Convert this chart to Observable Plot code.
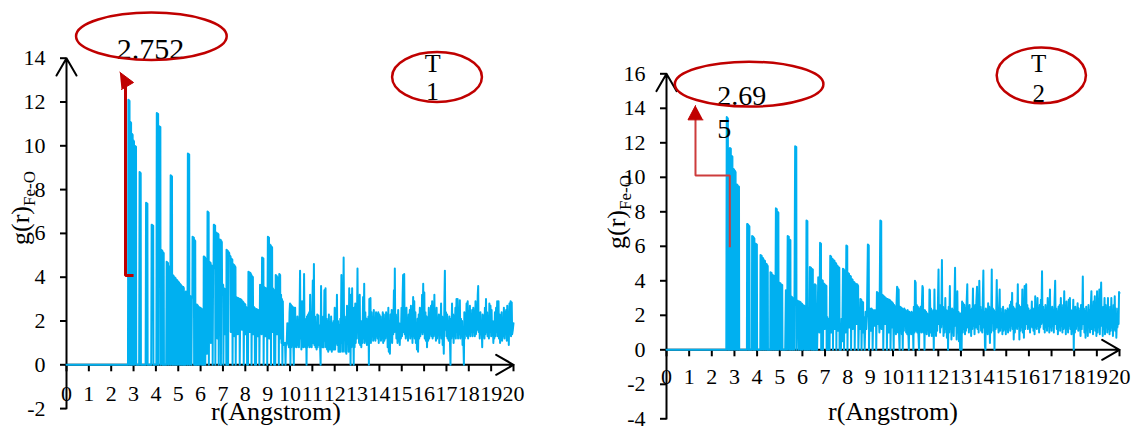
<!DOCTYPE html>
<html><head><meta charset="utf-8">
<script src="https://cdn.jsdelivr.net/npm/d3@7"></script>
<script src="https://cdn.jsdelivr.net/npm/@observablehq/plot@0.6"></script>
<style>
html,body{margin:0;padding:0;background:#fff;}
#wrap{position:relative;width:1134px;height:427px;overflow:hidden;background:#fff;}
#wrap svg{position:absolute;top:0;}
</style></head><body><div id="wrap"></div>
<script>
// ---------- data ----------
const xTicks = [0,1,2,3,4,5,6,7,8,9,10,11,12,13,14,15,16,17,18,19,20];
const yTicksT1 = [-2,0,2,4,6,8,10,12,14];
const yTicksT2 = [-4,-2,0,2,4,6,8,10,12,14,16];

// g(r) Fe-O, panel T1  [r, g]
const gT1 = [
[0,0],[2.75,0],
[2.77,12.1],[2.82,12.05],[2.83,0],[2.85,11.1],[2.89,11.05],[2.90,0],[2.92,10.55],[2.96,10.5],[2.97,0],[2.99,10.25],[3.02,10.2],[3.03,0],[3.05,10.0],[3.11,9.95],[3.12,0],
[3.25,0],[3.27,8.8],[3.32,8.75],[3.33,0],
[3.54,0],[3.56,7.4],[3.62,7.35],[3.63,0],
[3.79,0],[3.81,6.4],[3.88,6.35],[3.89,0],
[4.02,0],[4.04,11.5],[4.10,11.45],[4.11,0],[4.13,10.9],[4.20,10.85],[4.21,0],[4.24,5.25],[4.29,5.2],[4.30,0],[4.31,5.15],[4.35,5.1],[4.36,0],
[4.46,0],[4.48,4.7],[4.54,4.65],[4.55,0],[4.57,4.5],[4.63,4.45],[4.64,0],[4.66,8.65],[4.72,8.6],[4.73,0],[4.75,4.1],[4.80,4.05],[4.81,0],[4.83,4.0],[4.88,3.95],[4.89,0],[4.91,3.9],[4.96,3.85],[4.97,0],[4.99,3.8],[5.04,3.75],[5.05,0],[5.07,3.7],[5.12,3.65],[5.13,0],[5.15,3.6],[5.20,3.55],[5.21,0],[5.23,3.55],[5.25,3.5],[5.26,0],
[5.32,0],[5.34,3.35],[5.40,3.3],[5.41,0],[5.43,9.65],[5.49,9.6],[5.50,0],[5.52,3.15],[5.58,3.1],[5.59,0],[5.61,3.1],[5.63,3.05],[5.64,5.85],[5.70,5.8],[5.71,0],[5.73,5.7],[5.76,5.65],[5.77,0],
[5.82,0],[5.83,2.75],[5.88,2.7],[5.89,0],[5.91,2.65],[5.96,2.6],[5.97,0],[5.99,2.6],[6.05,2.55],[6.06,0],[6.08,2.5],[6.12,2.5],[6.13,0],
[6.14,4.95],[6.20,4.9],[6.21,0],[6.23,4.85],[6.28,4.8],[6.29,0.5],[6.31,7.0],[6.36,6.95],[6.37,0],[6.39,4.7],[6.45,4.65],[6.46,1.0],[6.48,4.55],[6.53,4.5],[6.54,0],[6.56,4.45],[6.58,4.4],[6.59,6.4],[6.65,6.35],[6.66,0],[6.68,6.05],[6.74,6.0],[6.75,1.2],[6.77,6.0],[6.80,5.95],[6.81,0],[6.84,5.72],[6.90,5.7],[6.91,0],[6.93,5.65],[6.95,5.6],[6.96,3.7],[7.01,3.65],[7.02,0],[7.04,3.5],[7.09,3.45],[7.10,1.4],[7.12,3.4],[7.14,3.35],[7.15,0],
[7.16,5.25],[7.22,5.2],[7.23,0],[7.25,5.15],[7.28,5.1],[7.29,5.0],[7.34,4.95],[7.35,1.5],[7.37,4.85],[7.42,4.8],[7.43,0],[7.45,4.6],[7.51,4.55],[7.52,1.3],[7.54,4.5],[7.56,4.45],[7.57,0],[7.59,3.1],[7.65,3.05],[7.66,1.4],[7.68,3.05],[7.74,3.0],[7.75,0],[7.78,3.0],[7.84,2.95],[7.85,1.6],[7.87,2.9],[7.92,2.85],[7.93,0],[7.95,2.8],[8.00,2.75],[8.01,1.4],[8.03,2.65],[8.07,2.6],[8.08,0],[8.10,2.0],[8.12,0],
[8.14,4.25],[8.19,4.2],[8.20,1.5],[8.22,4.2],[8.27,4.1],[8.28,0],[8.30,4.05],[8.34,4.0],[8.35,1.4],[8.37,2.65],[8.42,2.6],[8.43,0],[8.46,1.6],[8.48,0],[8.50,2.55],[8.55,2.5],[8.56,1.3],[8.58,2.5],[8.62,2.45],[8.63,0],[8.66,3.65],[8.72,3.6],[8.73,1.4],[8.75,4.9],[8.81,4.85],[8.82,0],[8.84,3.55],[8.89,3.5],[8.90,1.3],[8.92,3.5],[8.97,3.45],[8.98,0],
[9.01,5.85],[9.06,5.8],[9.07,1.2],[9.09,5.5],[9.14,5.45],[9.15,0],[9.17,5.4],[9.20,5.35],[9.21,1.5],[9.23,3.5],[9.28,3.4],[9.29,0],[9.32,1.6],[9.34,0],[9.36,4.1],[9.41,4.05],[9.42,1.4],[9.44,4.0],[9.49,3.95],[9.50,0],[9.52,4.15],[9.56,4.1],[9.57,1.2],
[9.60,3.2],[9.62,1.0],[9.64,3.0],[9.66,0],[9.68,2.9],[9.70,0.9],[9.73,1.0],[9.75,0.95],[9.78,1.0],[9.80,0],[9.82,1.0],[9.85,0.9],[9.88,1.9],[9.90,1.0],[9.93,1.9],[9.95,0.8],[9.98,2.4],[10.00,2.8],[10.02,0],[10.04,2.75],[10.06,0.8],[10.08,2.7],[10.10,1.2],[10.12,2.65],[10.15,0.9],[10.17,0],[10.19,2.6],[10.21,0.8],[10.23,2.6],[10.25,1.0],[10.28,1.8],[10.30,0.8],[10.33,2.2],[10.35,0.9],[10.38,1.9],[10.40,0.8],[10.43,2.5],[10.45,4.3],[10.47,1.2],[10.49,2.0],[10.51,0.7],[10.54,2.9],[10.56,1.0],[10.58,2.3],[10.60,0.8],[10.63,4.15],[10.65,1.5],[10.67,2.1],[10.69,0.8],[10.72,1.9],[10.74,0],[10.76,2.2],[10.78,0.8],[10.81,2.3],[10.83,0.9],[10.86,2.4],[10.88,0.8],[10.90,3.2],[10.92,1.1],[10.95,2.0],[10.97,0.8],
[11.00,2.6],[11.02,3.85],[11.04,1.0],[11.07,4.6],[11.09,0.9],[11.12,2.2],[11.14,0.8],[11.17,1.9],[11.19,0.7],[11.22,2.3],[11.24,0.8],[11.27,2.25],[11.29,0.9],[11.32,1.8],[11.35,0.7],[11.37,0],[11.39,3.6],[11.41,1.0],[11.44,2.0],[11.46,0.8],[11.49,2.2],[11.51,0.8],[11.54,3.4],[11.56,1.1],[11.59,3.5],[11.61,0.8],[11.64,2.1],[11.66,0.7],[11.69,2.0],[11.71,0.6],[11.74,2.3],[11.76,0.7],[11.79,1.8],[11.81,0.7],[11.84,2.2],[11.87,0.6],[11.89,1.9],[11.92,0.7],[11.95,2.0],[11.97,0.7],
[12.00,2.6],[12.02,0.7],[12.05,2.3],[12.07,1.0],[12.10,3.2],[12.12,0.9],[12.15,2.0],[12.17,0.6],[12.20,1.8],[12.23,0.6],[12.25,2.1],[12.27,0.6],[12.30,4.1],[12.32,1.0],[12.35,2.4],[12.37,0.6],[12.40,4.9],[12.42,1.5],[12.45,2.2],[12.47,0.6],[12.50,1.9],[12.52,0.5],[12.55,2.7],[12.57,1.0],[12.60,2.2],[12.62,0.6],[12.65,3.5],[12.67,1.0],[12.69,2.1],[12.71,0],[12.73,3.2],[12.75,0.8],[12.78,3.5],[12.80,1.0],[12.83,2.0],[12.85,0],[12.87,2.6],[12.89,0.8],[12.92,2.8],[12.94,1.0],[12.97,2.5],[12.99,1.2],
[13.02,4.4],[13.04,1.5],[13.07,2.2],[13.09,1.0],[13.12,3.2],[13.14,0.9],[13.17,2.0],[13.19,0.8],[13.22,1.9],[13.24,1.0],[13.27,3.1],[13.29,1.2],[13.32,3.7],[13.34,1.0],[13.37,2.4],[13.39,1.1],[13.42,2.1],[13.44,0.9],[13.47,1.8],[13.49,1.0],[13.51,2.2],[13.53,0],[13.55,3.0],[13.57,1.2],[13.60,3.05],[13.62,1.0],[13.65,2.4],[13.67,1.3],[13.70,2.0],[13.72,1.1],[13.75,2.5],[13.77,1.2],[13.80,2.1],[13.82,1.1],[13.85,2.4],[13.87,1.3],[13.90,2.3],[13.92,1.2],[13.95,2.4],[13.97,1.0],
[14.00,2.3],[14.02,1.3],[14.05,2.2],[14.07,1.1],[14.10,2.0],[14.12,1.2],[14.15,2.4],[14.17,1.0],[14.20,2.3],[14.22,1.1],[14.25,1.8],[14.27,1.2],[14.30,2.4],[14.32,1.3],[14.35,2.3],[14.37,0.8],[14.40,2.6],[14.42,0.6],[14.45,2.0],[14.47,0.5],[14.50,2.3],[14.52,1.2],[14.55,2.5],[14.57,1.0],[14.60,2.2],[14.62,1.4],[14.65,3.4],[14.67,1.5],[14.69,4.4],[14.71,1.6],[14.74,2.3],[14.76,1.2],[14.79,2.1],[14.81,1.0],[14.84,2.5],[14.86,1.1],[14.89,1.9],[14.91,0.9],[14.94,1.8],[14.96,1.2],[14.99,2.6],
[15.01,1.3],[15.04,3.2],[15.06,4.1],[15.08,1.5],[15.11,4.15],[15.13,1.4],[15.16,2.2],[15.18,1.2],[15.21,2.6],[15.23,1.3],[15.26,2.1],[15.28,1.1],[15.31,2.3],[15.33,1.4],[15.36,2.5],[15.38,1.2],[15.41,2.7],[15.43,1.3],[15.46,2.2],[15.48,1.0],[15.51,3.1],[15.53,1.3],[15.56,2.9],[15.58,1.2],[15.61,2.4],[15.63,1.0],[15.66,1.9],[15.68,0.7],[15.71,2.1],[15.73,0.6],[15.76,2.3],[15.78,1.2],[15.81,2.6],[15.83,1.3],[15.86,2.4],[15.88,1.5],[15.91,3.2],[15.93,1.4],[15.96,3.7],[15.98,1.5],
[16.01,3.3],[16.03,1.2],[16.06,2.4],[16.08,1.1],[16.11,2.2],[16.13,0.8],[16.16,1.9],[16.18,1.1],[16.21,2.6],[16.23,1.2],[16.26,2.3],[16.28,1.4],[16.31,2.7],[16.33,1.3],[16.36,2.9],[16.38,1.2],[16.41,2.5],[16.43,1.3],[16.46,3.2],[16.48,1.4],[16.51,2.0],[16.53,1.1],[16.56,2.6],[16.58,1.2],[16.61,2.1],[16.63,1.5],[16.66,2.3],[16.68,1.0],[16.71,2.2],[16.73,1.4],[16.76,2.8],[16.78,1.2],[16.81,2.2],[16.83,0.9],[16.86,1.8],[16.88,0.5],[16.91,3.0],[16.93,4.3],[16.95,1.6],[16.98,2.4],
[17.00,1.3],[17.03,2.3],[17.05,1.2],[17.08,2.0],[17.10,1.1],[17.13,2.2],[17.15,1.4],[17.18,0],[17.20,2.1],[17.22,1.2],[17.25,2.8],[17.27,1.3],[17.30,2.3],[17.32,1.0],[17.35,2.1],[17.37,1.4],[17.40,2.6],[17.42,1.2],[17.45,3.0],[17.47,1.5],[17.50,3.0],[17.52,1.2],[17.55,2.4],[17.57,1.4],[17.60,2.95],[17.62,1.2],[17.65,2.1],[17.67,1.3],[17.70,2.0],[17.72,0.9],[17.75,1.5],[17.78,0],[17.80,2.4],[17.82,1.2],[17.85,2.3],[17.87,1.4],[17.90,2.8],[17.92,1.3],[17.95,2.9],[17.97,1.2],
[18.00,2.3],[18.02,1.4],[18.05,2.7],[18.07,1.3],[18.10,2.3],[18.12,1.5],[18.15,2.5],[18.17,1.3],[18.20,2.6],[18.22,1.5],[18.25,2.2],[18.27,1.3],[18.30,2.9],[18.32,1.4],[18.35,2.5],[18.37,1.6],[18.40,3.2],[18.42,3.6],[18.44,1.5],[18.47,2.3],[18.49,1.2],[18.52,2.4],[18.54,1.4],[18.57,2.0],[18.60,0.8],[18.62,2.3],[18.64,1.3],[18.67,2.2],[18.70,1.2],[18.72,2.6],[18.74,1.4],[18.77,3.0],[18.79,1.5],[18.82,2.4],[18.84,1.3],[18.87,2.2],[18.90,1.2],[18.92,2.8],[18.94,1.5],[18.97,2.7],
[19.00,1.3],[19.02,2.5],[19.04,1.4],[19.07,2.0],[19.10,1.0],[19.12,1.8],[19.14,1.2],[19.17,2.4],[19.20,1.3],[19.22,2.6],[19.24,1.5],[19.27,2.9],[19.30,1.3],[19.33,2.9],[19.35,1.2],[19.38,2.3],[19.40,1.0],[19.42,2.0],[19.45,1.2],[19.47,2.4],[19.49,1.1],[19.52,1.5],[19.55,1.3],[19.57,2.6],[19.60,1.2],[19.62,2.4],[19.65,1.4],[19.67,2.5],[19.70,1.1],[19.72,2.7],[19.75,1.2],[19.77,2.0],[19.79,0.9],[19.82,2.8],[19.84,1.5],[19.87,2.9],[19.89,1.3],[19.92,2.85],[19.94,1.4],[19.97,1.6],[20.00,1.9]
];

// g(r) Fe-O, panel T2  [r, g]
const gT2 = [
[0,0],[2.64,0],
[2.66,13.5],[2.71,13.4],[2.72,0],[2.78,0],[2.80,11.7],[2.84,11.65],[2.85,0],[2.87,11.25],[2.91,11.2],[2.92,0],[2.94,10.5],[2.98,10.45],[2.99,0],[3.01,10.4],[3.05,10.3],[3.06,0],[3.09,9.6],[3.13,9.55],[3.14,0],[3.16,9.5],[3.20,9.45],[3.21,0],
[3.55,0],[3.56,7.3],[3.61,7.25],[3.62,0],[3.63,7.2],[3.66,7.15],[3.67,0],
[3.77,0],[3.78,6.6],[3.83,6.55],[3.84,0],[3.85,6.5],[3.88,6.45],[3.89,0],
[3.92,0],[3.93,6.15],[3.99,6.1],[4.00,0],
[4.14,0],[4.15,5.5],[4.20,5.45],[4.21,0],[4.23,5.35],[4.27,5.3],[4.28,0],[4.30,5.2],[4.35,5.15],[4.36,0],[4.38,5.0],[4.43,4.95],[4.44,0],[4.45,4.9],[4.47,4.85],[4.48,0],
[4.58,0],[4.59,4.5],[4.64,4.45],[4.65,0],[4.67,4.35],[4.71,4.3],[4.72,0],[4.74,4.3],[4.78,4.25],[4.80,0],[4.83,8.2],[4.87,8.15],[4.88,0],[4.90,8.0],[4.94,7.95],[4.95,0],[4.97,3.9],[5.03,3.85],[5.04,0],[5.06,3.8],[5.11,3.75],[5.12,0],
[5.24,0],[5.27,3.45],[5.31,3.4],[5.32,0],[5.35,6.6],[5.40,6.55],[5.41,0],[5.43,6.4],[5.47,6.35],[5.48,0],[5.50,3.1],[5.55,3.05],[5.56,0],[5.58,3.0],[5.63,2.95],[5.64,0],[5.68,11.8],[5.73,11.75],[5.74,0],[5.78,2.85],[5.83,2.8],[5.84,0],[5.87,2.8],[5.92,2.75],[5.93,0],[5.95,2.7],[5.99,2.65],[6.00,0],[6.03,2.6],[6.08,2.55],[6.09,0],[6.11,2.5],[6.15,2.45],[6.16,0],[6.18,7.5],[6.22,7.45],[6.23,0],[6.25,2.3],[6.29,2.3],[6.30,0],
[6.33,4.8],[6.38,4.75],[6.39,0],[6.41,4.7],[6.46,4.65],[6.47,0],[6.50,1.5],[6.52,0],[6.55,3.8],[6.59,3.75],[6.60,0],[6.63,2.0],[6.65,0],[6.70,4.2],[6.74,4.15],[6.75,1.0],[6.78,6.2],[6.82,6.15],[6.83,0],[6.86,4.05],[6.90,4.0],[6.91,0],[6.93,3.85],[6.98,3.8],[6.99,1.2],
[7.02,3.75],[7.06,3.7],[7.07,0],[7.10,1.9],[7.13,0],[7.17,1.8],[7.20,0],[7.23,5.45],[7.27,5.4],[7.28,1.0],[7.30,5.3],[7.34,5.25],[7.35,0],[7.38,5.2],[7.42,5.15],[7.43,1.2],[7.45,5.05],[7.49,5.0],[7.50,0],[7.52,4.9],[7.56,4.85],[7.57,1.1],[7.59,4.8],[7.63,4.75],[7.64,0],[7.67,1.5],[7.70,0],[7.73,1.8],[7.76,0.5],[7.79,4.7],[7.83,4.65],[7.84,0],[7.86,4.6],[7.90,4.55],[7.91,1.0],[7.94,6.05],[7.98,6.0],[7.99,0],
[8.02,4.45],[8.06,4.4],[8.07,1.3],[8.10,4.3],[8.14,4.25],[8.15,0],[8.18,4.1],[8.22,4.05],[8.23,1.2],[8.26,3.95],[8.30,3.9],[8.31,0],[8.34,3.85],[8.38,3.8],[8.39,1.5],[8.42,3.8],[8.46,3.7],[8.47,0],[8.50,2.0],[8.53,1.2],[8.56,2.95],[8.60,2.9],[8.61,0],[8.64,2.8],[8.68,2.75],[8.69,1.0],[8.72,1.9],[8.75,0],[8.79,2.2],[8.82,1.2],[8.85,2.0],[8.89,6.1],[8.93,6.05],[8.94,0],[8.97,2.4],
[9.01,2.35],[9.02,1.1],[9.05,2.4],[9.09,2.3],[9.10,0],[9.13,2.3],[9.17,2.2],[9.18,1.4],[9.21,2.3],[9.25,2.25],[9.26,0],[9.29,3.35],[9.33,3.3],[9.34,1.5],[9.37,2.2],[9.40,1.0],[9.44,7.5],[9.48,7.45],[9.49,1.2],[9.52,3.2],[9.56,3.15],[9.57,0],[9.60,3.1],[9.64,3.05],[9.65,1.5],[9.68,3.0],[9.72,2.95],[9.73,0],[9.76,2.95],[9.80,2.9],[9.81,1.0],[9.84,2.9],[9.88,2.85],[9.89,0],[9.92,2.8],[9.96,2.75],[9.97,1.3],
[10.00,2.7],[10.03,0],[10.05,2.6],[10.08,1.2],[10.10,2.5],[10.13,0.9],[10.15,2.4],[10.18,3.65],[10.20,3.6],[10.22,1.0],[10.25,3.5],[10.27,0.8],[10.29,0],[10.31,2.5],[10.34,1.2],[10.36,2.45],[10.39,0.9],[10.41,2.4],[10.43,0],[10.45,2.3],[10.48,1.1],[10.50,2.4],[10.53,1.4],[10.55,2.3],[10.58,1.0],[10.60,2.2],[10.63,0.9],[10.65,2.3],[10.68,0.8],[10.70,0],[10.72,2.2],[10.75,1.1],[10.77,2.1],[10.80,0.9],[10.82,2.2],[10.85,1.3],[10.87,2.1],[10.90,0],[10.92,2.5],[10.95,1.0],[10.97,4.0],
[11.00,3.9],[11.02,1.1],[11.05,2.6],[11.07,1.0],[11.10,2.5],[11.12,0.9],[11.15,0],[11.17,2.4],[11.20,1.2],[11.22,2.5],[11.25,1.0],[11.27,2.4],[11.30,3.7],[11.32,3.6],[11.34,1.0],[11.37,2.2],[11.39,0],[11.41,2.3],[11.44,1.1],[11.46,2.2],[11.49,0.9],[11.51,2.1],[11.54,1.3],[11.56,2.0],[11.59,0.8],[11.61,3.5],[11.63,3.45],[11.66,1.0],[11.68,2.4],[11.71,0.8],[11.73,2.2],[11.76,1.1],[11.78,2.3],[11.80,0],[11.83,3.5],[11.85,1.2],[11.88,2.3],[11.90,0.8],[11.93,2.2],[11.95,1.1],[11.98,2.4],
[12.01,4.65],[12.03,1.5],[12.06,2.6],[12.08,1.0],[12.11,2.4],[12.13,1.3],[12.16,5.2],[12.18,1.5],[12.21,2.5],[12.23,0.8],[12.26,2.4],[12.28,1.0],[12.31,3.0],[12.33,1.2],[12.36,2.3],[12.38,0.7],[12.41,2.2],[12.43,0],[12.46,2.5],[12.48,1.0],[12.51,3.7],[12.53,1.2],[12.56,2.3],[12.58,0.6],[12.61,2.4],[12.63,1.0],[12.66,2.3],[12.68,0.8],[12.71,2.5],[12.74,4.75],[12.76,1.4],[12.79,2.1],[12.81,0.6],[12.84,3.4],[12.86,1.0],[12.89,2.2],[12.91,0.5],[12.94,2.1],[12.96,0],[12.98,2.1],
[13.01,0.9],[13.03,0],[13.05,2.8],[13.08,1.0],[13.10,2.7],[13.12,1.2],[13.15,2.6],[13.18,0.9],[13.20,2.4],[13.22,1.1],[13.25,2.7],[13.28,3.8],[13.30,1.3],[13.33,2.5],[13.35,1.0],[13.38,2.6],[13.40,1.2],[13.43,2.3],[13.45,0.8],[13.48,2.4],[13.50,1.2],[13.53,3.55],[13.55,1.4],[13.58,2.4],[13.60,0.9],[13.63,2.6],[13.66,1.3],[13.68,2.8],[13.71,3.65],[13.73,1.2],[13.76,2.4],[13.78,1.0],[13.81,4.0],[13.84,1.5],[13.86,2.5],[13.89,1.1],[13.91,2.3],[13.94,1.0],[13.96,2.6],[13.99,4.6],
[14.01,1.3],[14.04,2.2],[14.06,0.2],[14.08,0],[14.10,2.4],[14.13,1.2],[14.15,2.3],[14.18,0.9],[14.20,2.7],[14.23,1.3],[14.25,2.5],[14.28,0.4],[14.30,2.2],[14.33,1.0],[14.36,4.65],[14.38,1.6],[14.41,2.4],[14.43,1.1],[14.46,2.3],[14.48,0],[14.50,2.2],[14.53,1.2],[14.56,2.4],[14.58,4.05],[14.61,1.3],[14.63,2.3],[14.66,1.0],[14.68,2.2],[14.71,3.5],[14.73,1.1],[14.76,2.4],[14.78,1.3],[14.81,2.1],[14.83,0.9],[14.86,2.5],[14.88,1.1],[14.91,2.0],[14.93,1.2],[14.96,2.3],[14.98,0.9],
[15.01,2.2],[15.03,1.2],[15.06,2.4],[15.08,1.0],[15.11,2.3],[15.13,1.3],[15.16,2.6],[15.18,1.1],[15.21,2.8],[15.23,1.4],[15.26,3.3],[15.28,1.2],[15.31,2.5],[15.33,0.6],[15.36,2.4],[15.38,1.0],[15.41,2.3],[15.43,1.3],[15.46,2.7],[15.48,1.2],[15.51,3.8],[15.53,1.4],[15.56,2.6],[15.58,0.6],[15.61,2.5],[15.63,1.1],[15.66,2.4],[15.68,1.3],[15.71,3.5],[15.73,1.0],[15.76,2.3],[15.78,0.7],[15.81,3.7],[15.83,1.2],[15.86,2.5],[15.88,3.8],[15.90,1.5],[15.93,2.6],[15.95,1.2],[15.98,2.4],
[16.00,1.3],[16.03,2.2],[16.05,1.0],[16.08,2.3],[16.10,1.4],[16.13,2.8],[16.15,1.3],[16.18,2.4],[16.20,1.1],[16.23,2.2],[16.25,0.9],[16.28,3.1],[16.30,1.3],[16.33,2.5],[16.35,1.2],[16.38,3.0],[16.40,1.4],[16.43,2.4],[16.45,1.0],[16.48,2.6],[16.50,1.3],[16.53,2.9],[16.55,1.5],[16.58,4.55],[16.60,1.6],[16.63,2.5],[16.65,1.2],[16.68,2.3],[16.70,1.0],[16.73,2.6],[16.75,1.3],[16.78,2.2],[16.80,1.1],[16.83,3.0],[16.85,1.4],[16.88,2.4],[16.90,1.0],[16.93,3.5],[16.95,1.3],[16.98,2.3],
[17.00,1.1],[17.03,2.5],[17.05,1.4],[17.08,2.3],[17.10,1.0],[17.13,2.7],[17.16,4.0],[17.18,1.5],[17.21,2.4],[17.23,1.2],[17.26,2.2],[17.28,0.9],[17.31,2.5],[17.33,1.3],[17.36,2.6],[17.38,1.1],[17.41,3.0],[17.43,1.4],[17.46,2.4],[17.48,1.0],[17.51,2.6],[17.53,1.2],[17.56,3.4],[17.58,1.3],[17.61,2.3],[17.63,0.9],[17.66,2.8],[17.68,1.2],[17.71,2.2],[17.73,1.0],[17.76,2.9],[17.78,1.4],[17.81,3.0],[17.83,1.2],[17.86,2.3],[17.88,0.9],[17.91,2.1],[17.93,1.1],[17.96,2.9],[17.98,0],
[18.00,2.2],[18.03,1.0],[18.05,2.5],[18.08,1.2],[18.10,2.3],[18.13,1.4],[18.15,2.7],[18.18,1.1],[18.20,2.4],[18.23,1.3],[18.25,2.2],[18.28,0.8],[18.30,2.6],[18.33,1.2],[18.36,2.3],[18.38,4.25],[18.40,1.5],[18.43,2.4],[18.45,1.0],[18.48,2.2],[18.50,0.7],[18.53,2.5],[18.55,1.2],[18.58,2.1],[18.60,0.8],[18.63,2.6],[18.65,1.3],[18.68,2.3],[18.70,1.0],[18.73,2.4],[18.76,3.4],[18.78,1.2],[18.81,2.2],[18.83,0.9],[18.86,2.8],[18.88,1.3],[18.91,3.1],[18.93,1.1],[18.96,2.3],[18.98,0.8],
[19.01,3.4],[19.03,1.0],[19.06,2.3],[19.08,1.3],[19.11,3.5],[19.13,0.9],[19.16,2.4],[19.19,3.9],[19.21,1.4],[19.24,2.2],[19.26,0.8],[19.29,2.5],[19.31,1.2],[19.34,3.0],[19.36,0.9],[19.39,2.6],[19.41,1.3],[19.44,2.4],[19.46,1.0],[19.49,3.0],[19.51,1.2],[19.54,2.3],[19.56,0.9],[19.59,2.5],[19.61,1.1],[19.64,3.0],[19.66,1.3],[19.69,2.2],[19.71,0.8],[19.74,2.6],[19.76,1.2],[19.79,3.1],[19.81,1.1],[19.84,2.4],[19.86,0.7],[19.89,2.0],[19.91,1.3],[19.94,2.4],[19.96,1.5],[19.98,3.35],[20.00,3.3]
];

// annotation texts
const labelsT1 = [{x: 3.76, y: 13.97, text: "2.752"}];
const tagT1 = [{x: 16.38, y: 14.28, text: "T\n1"}];
const labelsT2 = [{x: 2.24, y: 15.51, text: "2.69\n5"}];
const tagT2 = [{x: 16.43, y: 17.29, text: "T\n2"}];
// annotation ellipses (data units)
const ellipsesT1 = [{cx: 3.82, cy: 14.98, rx: 3.37, ry: 1.08}, {cx: 16.6, cy: 13.12, rx: 2.01, ry: 1.14}];
const ellipsesT2 = [{cx: 3.67, cy: 15.37, rx: 3.28, ry: 1.30}, {cx: 16.57, cy: 15.88, rx: 1.97, ry: 1.62}];
// annotation arrows (data units)
const shaftT1 = [[3.0,4.08],[2.64,4.08],[2.64,12.75]];
const headT1 = [[2.385,13.36],[3.0,12.89],[2.46,12.57]];
const shaftT2 = [[2.795,5.95],[2.795,10.1],[1.28,10.1],[1.28,13.4]];
const headT2 = [[1.28,14.16],[0.949,13.33],[1.611,13.33]];

const SERIF = "'Liberation Serif','Times New Roman',Times,serif";
const BLUE = "#00B0F0";

function panel(o) {
  const yAxisLine = [{x1: 0, y1: o.yDomain[0], x2: 0, y2: o.yDomain[1]}];
  const xAxisLine = [{x1: 0, y1: 0, x2: 20, y2: 0}];
  const chart = Plot.plot({
    width: 567, height: 427,
    marginLeft: o.mL, marginRight: o.mR, marginTop: o.mT, marginBottom: o.mB,
    x: {domain: [0, 20], axis: null},
    y: {domain: o.yDomain, axis: null},
    style: {fontFamily: SERIF, fontSize: "22px", color: "black", background: "transparent", overflow: "visible"},
    marks: [
      Plot.ruleX(xTicks, {x: d => d, y1: d => 0, y2: d => 0, insetBottom: -7, stroke: "black", strokeWidth: 2}),
      Plot.axisY({ticks: o.yTicks, tickSize: 6, tickPadding: 15, tickFormat: d => String(d), fontSize: 22, strokeWidth: 2, label: null}),
      Plot.arrow(yAxisLine, {x1: "x1", y1: "y1", x2: "x2", y2: "y2", stroke: "black", strokeWidth: 2, headLength: 15}),
      Plot.arrow(xAxisLine, {x1: "x1", y1: "y1", x2: "x2", y2: "y2", stroke: "black", strokeWidth: 2, headLength: 15}),
      Plot.text(xTicks, {x: d => d, y: d => 0, text: d => String(d), dy: o.xLabelDy, fontSize: 22, fill: "black"}),
      Plot.line(o.data, {x: d => d[0], y: d => d[1], stroke: BLUE, strokeWidth: 2}),
      Plot.line(o.shaft, {x: d => d[0], y: d => d[1], stroke: o.shaftColor, strokeWidth: o.shaftWidth, strokeLinejoin: "miter", strokeLinecap: "butt"}),
      Plot.line(o.head, {x: d => d[0], y: d => d[1], fill: "#C00000", stroke: "#C00000", strokeWidth: 1}),
      Plot.text(o.labels, {x: "x", y: "y", text: "text", fontSize: o.labelSize, textAnchor: o.labelAnchor, lineAnchor: o.labelLineAnchor, lineHeight: o.labelLineHeight, fill: "black"}),
      Plot.text(o.tag, {x: "x", y: "y", text: "text", fontSize: o.tagSize, lineAnchor: "top", lineHeight: o.tagLineHeight, fill: "black"})
    ]
  });
  const svg = d3.select(chart);
  const xs = chart.scale("x"), ys = chart.scale("y");
  for (const e of o.ellipses) {
    const cx = xs.apply(e.cx), cy = ys.apply(e.cy);
    svg.append("ellipse")
      .attr("cx", cx).attr("cy", cy)
      .attr("rx", Math.abs(xs.apply(e.cx + e.rx) - cx))
      .attr("ry", Math.abs(ys.apply(e.cy + e.ry) - cy))
      .attr("fill", "none").attr("stroke", "#C00000").attr("stroke-width", 2.5);
  }
  // y title with subscript
  const yt = svg.append("text")
    .attr("transform", `translate(${o.yTitleX},${o.yTitleY}) rotate(-90)`)
    .attr("text-anchor", "start")
    .attr("font-family", SERIF).attr("font-size", 26).attr("fill", "black");
  yt.append("tspan").text("g(r)");
  yt.append("tspan").attr("font-size", 17).attr("dy", 6).text("Fe-O");
  // x title
  svg.append("text").attr("x", o.xTitleX).attr("y", 420)
    .attr("text-anchor", "middle").attr("font-family", SERIF).attr("font-size", 26).attr("fill", "black")
    .text("r(Angstrom)");
  chart.style.left = o.left + "px";
  return chart;
}

const wrap = document.getElementById("wrap");
wrap.append(panel({
  data: gT1, yDomain: [-2, 14], yTicks: yTicksT1,
  mL: 66, mR: 54, mT: 57.7, mB: 18.9, xLabelDy: 29,
  shaft: shaftT1, head: headT1, shaftColor: "#C00000", shaftWidth: 3,
  labels: labelsT1, labelSize: 30, labelAnchor: "middle", labelLineAnchor: "bottom", labelLineHeight: 1,
  tag: tagT1, tagSize: 26, tagLineHeight: 1.08,
  ellipses: ellipsesT1, yTitleX: 29, yTitleY: 245, xTitleX: 276, left: 0
}));
wrap.append(panel({
  data: gT2, yDomain: [-4, 16], yTicks: yTicksT2,
  mL: 99, mR: 15, mT: 73.3, mB: 8.7, xLabelDy: 27.5,
  shaft: shaftT2, head: headT2, shaftColor: "#CD3C3C", shaftWidth: 2,
  labels: labelsT2, labelSize: 28, labelAnchor: "start", labelLineAnchor: "top", labelLineHeight: 1.164,
  tag: tagT2, tagSize: 25, tagLineHeight: 1.17,
  ellipses: ellipsesT2, yTitleX: 58, yTitleY: 249, xTitleX: 326, left: 567
}));
</script>
</body></html>
